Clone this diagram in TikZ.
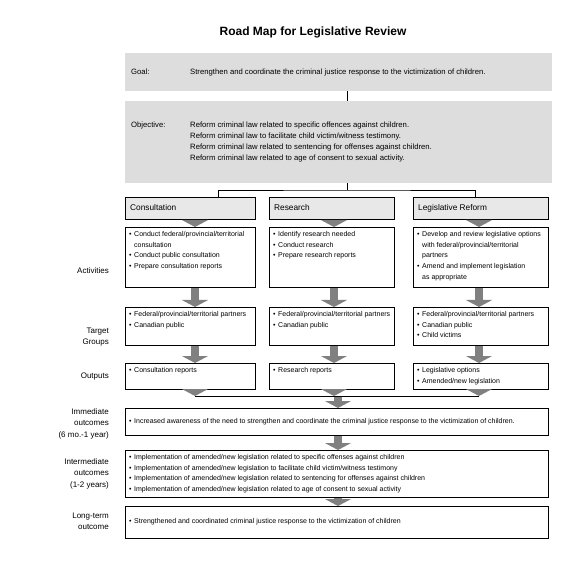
\documentclass[tikz,border=0pt]{standalone}
\usepackage{fontspec}
\setmainfont{Liberation Sans}
\usetikzlibrary{arrows.meta}
\definecolor{boxgray}{RGB}{221,221,221}
\definecolor{headgray}{RGB}{232,232,232}
\definecolor{arrowgray}{RGB}{128,128,128}
\newcommand{\itembul}{\makebox[5pt][l]{\textbullet}}
\newcommand{\itemcont}{\hspace*{5pt}}

\begin{document}
\begin{tikzpicture}[x=1pt,y=-1pt]
\tikzstyle{graybox}=[fill=boxgray,anchor=north west,inner sep=0pt]
\tikzstyle{headbox}=[draw=black,fill=headgray,line width=0.8pt,anchor=north west,inner sep=0pt,minimum height=22]
\tikzstyle{whitebox}=[draw=black,fill=white,line width=0.8pt,anchor=north west,inner sep=0pt]
\tikzstyle{plaintext}=[inner sep=0pt,align=left,font=\fontsize{7.7}{11}\selectfont]
\tikzstyle{headtext}=[inner sep=0pt,anchor=west,font=\fontsize{8.3}{10}\selectfont]
\tikzstyle{boxtext}=[anchor=north west,inner sep=0pt,align=left,font=\fontsize{7}{10.8}\selectfont]
\tikzstyle{sidelabel}=[anchor=east,inner sep=0pt,align=right,font=\fontsize{8}{11.7}\selectfont]
\tikzstyle{conn}=[draw=black,line width=0.8pt]
\tikzstyle{bigarrow}=[draw=arrowgray,line width=8pt,shorten <=0.6pt,-{Triangle[width=26pt,length=7pt]}]
\useasboundingbox (0,0) rectangle (576,564);

% title
\node[font=\bfseries\fontsize{12}{14}\selectfont] (title) at (313,32) {Road Map for Legislative Review};

% goal and objective
\node[graybox,minimum width=427,minimum height=38] (goal) at (125,53) {};
\node[plaintext,anchor=base west] (goallab) at (131,74.5) {Goal:};
\node[plaintext,anchor=base west] (goaltxt) at (190,74.5) {Strengthen and coordinate the criminal justice response to the victimization of children.};
\node[graybox,minimum width=427,minimum height=82] (objective) at (125,101) {};
\node[plaintext,anchor=base west] (objlab) at (131,127.5) {Objective:};
\node[plaintext,anchor=north west] (objtxt) at (190,121.5) {Reform criminal law related to specific offences against children.\\
Reform criminal law to facilitate child victim/witness testimony.\\
Reform criminal law related to sentencing for offenses against children.\\
Reform criminal law related to age of consent to sexual activity.};

% three columns
\foreach \col/\x/\w/\ax in {cons/125/130/195, res/269/125/334, leg/413/135/479} {
  \node[headbox,minimum width=\w] (hd\col) at (\x,197) {};
  \node[whitebox,minimum width=\w,minimum height=60] (act\col) at (\x,227) {};
  \node[whitebox,minimum width=\w,minimum height=38] (tg\col) at (\x,307) {};
  \node[whitebox,minimum width=\w,minimum height=26] (out\col) at (\x,363) {};
  \coordinate (j\col) at (\ax,396);
  \draw[bigarrow] (\ax,0 |- hd\col.south) -- (\ax,0 |- act\col.north);
  \draw[bigarrow] (\ax,0 |- act\col.south) -- (\ax,0 |- tg\col.north);
  \draw[bigarrow] (\ax,0 |- tg\col.south) -- (\ax,0 |- out\col.north);
  \draw[bigarrow] (\ax,0 |- out\col.south) -- (j\col);
}

% connectors from the objective
\coordinate (split) at (347,190);
\draw[conn] (split |- goal.south) -- (split |- objective.north);
\draw[conn] (split |- objective.south) -- (split);
\draw[conn] (218,0 |- hdcons.north) |- (split) -| (475,0 |- hdleg.north);

% column texts
\node[headtext] (hdconst) at (130,208) {Consultation};
\node[headtext] (hdrest) at (274,208) {Research};
\node[headtext] (hdlegt) at (418,208) {Legislative Reform};

\node[boxtext] (actconst) at (129,231) {\itembul Conduct federal/provincial/territorial\\
\itemcont consultation\\
\itembul Conduct public consultation\\
\itembul Prepare consultation reports};
\node[boxtext] (actrest) at (273,231) {\itembul Identify research needed\\
\itembul Conduct research\\
\itembul Prepare research reports};
\node[boxtext] (actlegt) at (417,231) {\itembul Develop and review legislative options\\
\itemcont with federal/provincial/territorial\\
\itemcont partners\\
\itembul Amend and implement legislation\\
\itemcont as appropriate};

\node[boxtext] (tgconst) at (129,311) {\itembul Federal/provincial/territorial partners\\
\itembul Canadian public};
\node[boxtext] (tgrest) at (273,311) {\itembul Federal/provincial/territorial partners\\
\itembul Canadian public};
\node[boxtext] (tglegt) at (417,311) {\itembul Federal/provincial/territorial partners\\
\itembul Canadian public\\
\itembul Child victims};

\node[boxtext] (outconst) at (129,367) {\itembul Consultation reports};
\node[boxtext] (outrest) at (273,367) {\itembul Research reports};
\node[boxtext] (outlegt) at (417,367) {\itembul Legislative options\\
\itembul Amended/new legislation};

% outcomes
\coordinate (jmid) at (338,396);
\draw[conn] (jcons) -- (jleg);
\node[whitebox,minimum width=423,minimum height=27] (immediate) at (125,408) {};
\node[whitebox,minimum width=423,minimum height=47] (intermediate) at (125,450) {};
\node[whitebox,minimum width=423,minimum height=32] (longterm) at (125,506) {};
\draw[bigarrow] (jmid) -- (jmid |- immediate.north);
\draw[bigarrow] (jmid |- immediate.south) -- (jmid |- intermediate.north);
\draw[bigarrow] (jmid |- intermediate.south) -- (jmid |- longterm.north);

\node[boxtext,anchor=west] (immt) at (129,421.5) {\itembul Increased awareness of the need to strengthen and coordinate the criminal justice response to the victimization of children.};
\node[boxtext] (intt) at (129,454) {\itembul Implementation of amended/new legislation related to specific offenses against children\\
\itembul Implementation of amended/new legislation to facilitate child victim/witness testimony\\
\itembul Implementation of amended/new legislation related to sentencing for offenses against children\\
\itembul Implementation of amended/new legislation related to age of consent to sexual activity};
\node[boxtext,anchor=west] (longt) at (129,522) {\itembul Strengthened and coordinated criminal justice response to the victimization of children};

% row labels
\node[sidelabel] (lblact) at (109,271) {Activities};
\node[sidelabel,anchor=north east] (lbltg) at (109,327.3) {Target\\Groups};
\node[sidelabel] (lblout) at (109,377) {Outputs};
\node[sidelabel,anchor=north east] (lblimm) at (109,408.3) {Immediate\\outcomes\\(6 mo.-1 year)};
\node[sidelabel,anchor=north east] (lblint) at (109,458.3) {Intermediate\\outcomes\\(1-2 years)};
\node[sidelabel,anchor=north east] (lbllong) at (109,512.3) {Long-term\\outcome};
\end{tikzpicture}
\end{document}
